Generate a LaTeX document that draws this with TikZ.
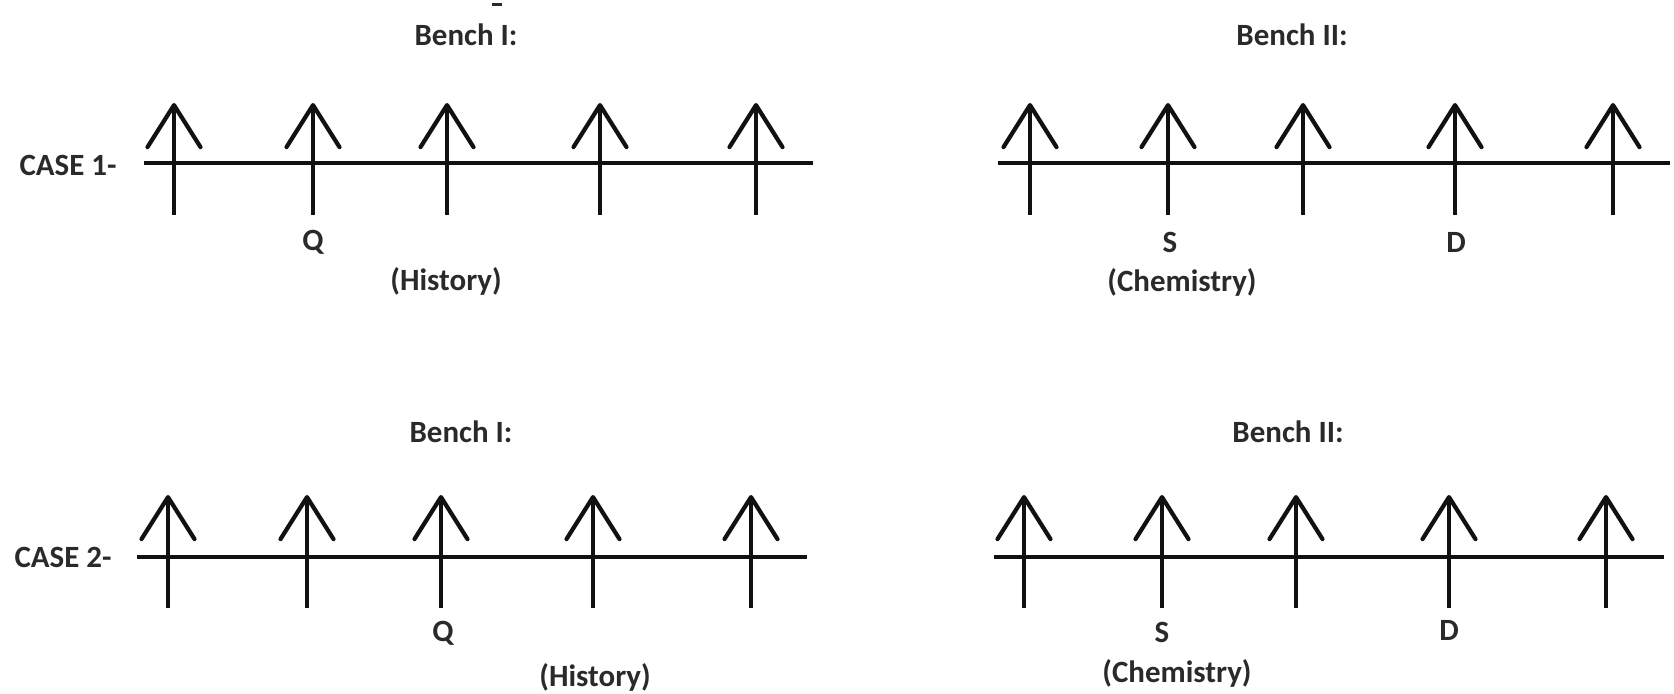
\documentclass[tikz,border=0pt]{standalone}
\usepackage{fontspec}
\setmainfont{Carlito}
\usetikzlibrary{arrows.meta}
\definecolor{cink}{HTML}{111111}
\definecolor{ctext}{HTML}{2A2A2A}
\tikzset{
  rail/.style={line width=1.2pt, draw=cink},
  stem/.style={line width=1.2pt, draw=cink, line cap=butt,
    -{Straight Barb[length=4.2mm, width=5.3mm, round]}},
  lbl/.style={font=\bfseries\fontsize{8.8}{10}\selectfont, text=ctext, inner sep=0pt},
}

\begin{document}
\begin{tikzpicture}[x=1cm,y=1cm]
\useasboundingbox (0,0) rectangle (16.74,-6.94);
\draw[ctext, line width=0.6pt] (4.92,-0.045) -- (5.02,-0.045);

% case 1: two benches, seats facing up
\draw[rail] (1.44,-1.63) -- (8.13,-1.63);
\draw[rail] (9.98,-1.63) -- (16.70,-1.63);
\foreach \x in {1.74,3.13,4.47,6.00,7.56,10.30,11.68,13.03,14.55,16.13}
  \draw[stem] (\x,-2.15) -- (\x,-1.03);
\node[lbl] (case1) at (0.68,-1.65) {CASE 1-};
\node[lbl] (bencha1) at (4.66,-0.35) {Bench I:};
\node[lbl] (benchb1) at (12.92,-0.35) {Bench II:};
\node[lbl] (q1) at (3.13,-2.42) {Q};
\node[lbl] (hist1) at (4.46,-2.81) {(History)};
\node[lbl] (s1) at (11.70,-2.42) {S};
\node[lbl] (chem1) at (11.82,-2.82) {(Chemistry)};
\node[lbl] (d1) at (14.56,-2.42) {D};

% case 2: Q moves to the middle seat
\draw[rail] (1.37,-5.57) -- (8.07,-5.57);
\draw[rail] (9.94,-5.57) -- (16.64,-5.57);
\foreach \x in {1.68,3.07,4.41,5.93,7.51,10.24,11.62,12.96,14.49,16.06}
  \draw[stem] (\x,-6.08) -- (\x,-4.95);
\node[lbl] (case2) at (0.63,-5.57) {CASE 2-};
\node[lbl] (bencha2) at (4.61,-4.32) {Bench I:};
\node[lbl] (benchb2) at (12.88,-4.32) {Bench II:};
\node[lbl] (q2) at (4.43,-6.33) {Q};
\node[lbl] (hist2) at (5.95,-6.77) {(History)};
\node[lbl] (s2) at (11.62,-6.32) {S};
\node[lbl] (chem2) at (11.77,-6.73) {(Chemistry)};
\node[lbl] (d2) at (14.49,-6.30) {D};
\end{tikzpicture}
\end{document}
